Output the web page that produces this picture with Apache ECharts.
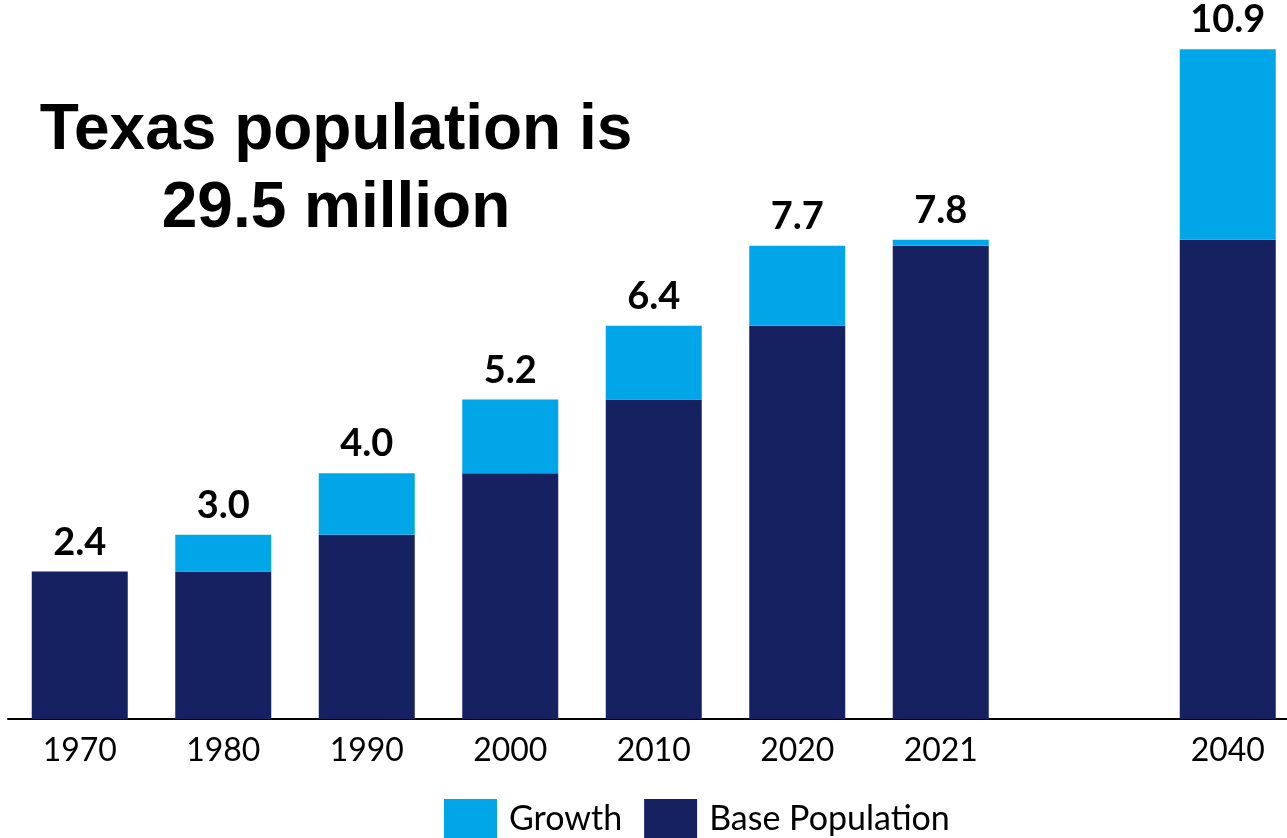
<!DOCTYPE html>
<html>
<head>
<meta charset="utf-8">
<script src="https://cdn.jsdelivr.net/npm/echarts@6/dist/echarts.min.js"></script>
<style>
html,body{margin:0;padding:0;background:#fff;}
#chart{width:1287px;height:838px;}
</style>
</head>
<body>
<div id="chart"></div>
<script>
const categories = ['1970', '1980', '1990', '2000', '2010', '2020', '2021', '', '2040'];
const baseValues = [2.4, 2.4, 3.0, 4.0, 5.2, 6.4, 7.7, '-', 7.8];
const growthValues = [0, 0.6, 1.0, 1.2, 1.2, 1.3, 0.1, '-', 3.1];
const totalLabels = ['2.4', '3.0', '4.0', '5.2', '6.4', '7.7', '7.8', '', '10.9'];
const legendNames = ['Growth', 'Base Population'];
const titleLines = ['Texas population is', '29.5 million'];

const chart = echarts.init(document.getElementById('chart'), null, {renderer: 'canvas'});
chart.setOption({
  animation: false,
  backgroundColor: '#ffffff',
  grid: {left: 8, width: 1291.5, top: 43, bottom: 119, containLabel: false, outerBoundsMode: 'none'},
  legend: {
    data: legendNames,
    left: 439,
    top: 794,
    itemWidth: 53,
    itemHeight: 40,
    itemGap: 22,
    icon: 'rect',
    selectedMode: false,
    textStyle: {fontFamily: 'Lato', fontSize: 34, color: '#000', padding: [0, 0, 0, 7]}
  },
  xAxis: {
    type: 'category',
    data: categories,
    axisTick: {show: false},
    axisLine: {lineStyle: {color: '#000', width: 2}},
    axisLabel: {fontFamily: 'Lato', fontSize: 32, color: '#000', margin: 16, interval: 0}
  },
  yAxis: {
    type: 'value', min: 0, max: 11, show: false,
    splitLine: {show: false}
  },
  graphic: [
    {type: 'text', x: 336, y: 131, style: {text: titleLines[0], fontFamily: 'Liberation Sans', fontWeight: 'bold', fontSize: 64, fill: '#000', align: 'center', verticalAlign: 'middle'}},
    {type: 'text', x: 336, y: 209, style: {text: titleLines[1], fontFamily: 'Liberation Sans', fontWeight: 'bold', fontSize: 64, fill: '#000', align: 'center', verticalAlign: 'middle'}}
  ],
  series: [
    {
      name: 'Base Population', type: 'bar', stack: 'pop', barWidth: 96,
      data: baseValues,
      itemStyle: {color: '#152161'}
    },
    {
      name: 'Growth', type: 'bar', stack: 'pop', barWidth: 96,
      data: growthValues,
      itemStyle: {color: '#00A6E8'},
      label: {
        show: true, position: 'top', distance: 10,
        fontFamily: 'Lato', fontWeight: 'bold', fontSize: 38, color: '#000',
        formatter: function (p) { return totalLabels[p.dataIndex]; }
      }
    }
  ]
});
</script>
</body>
</html>
